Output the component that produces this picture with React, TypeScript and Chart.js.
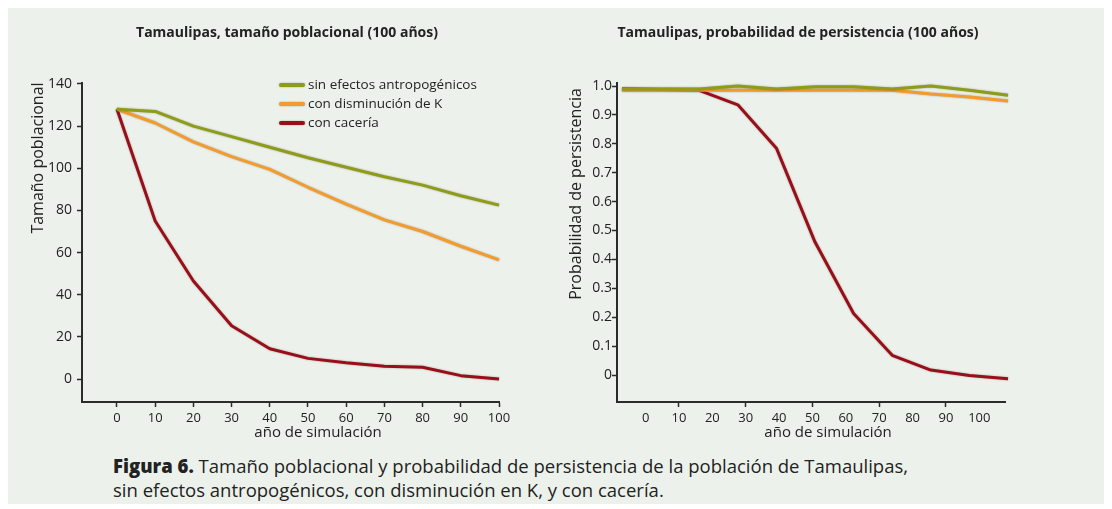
import React, { useEffect, useRef } from 'react';
import { Chart, registerables } from 'chart.js';

Chart.register(...registerables);

// ---------- data ----------
const YEARS = [0, 10, 20, 30, 40, 50, 60, 70, 80, 90, 100];
const SERIES_LABELS = ['sin efectos antropogénicos', 'con disminución de K', 'con cacería'];

const POP_NATURAL = [128, 127, 120, 115, 110, 105, 100.5, 96, 92, 87, 82.5];
const POP_K = [128, 121.5, 112.5, 105.5, 99.5, 91, 83, 75.5, 70, 63, 56.5];
const POP_HUNT = [128, 75, 46.5, 25.3, 14.4, 9.8, 7.7, 6.1, 5.6, 1.6, 0];

const PERS_NATURAL = [0.99, 0.99, 0.99, 1.0, 0.99, 0.997, 0.997, 0.99, 1.0, 0.985, 0.968];
const PERS_K = [0.985, 0.985, 0.985, 0.985, 0.985, 0.985, 0.985, 0.985, 0.972, 0.962, 0.948];
const PERS_HUNT = [0.99, 0.988, 0.985, 0.935, 0.785, 0.46, 0.213, 0.068, 0.017, -0.002, -0.013];

const X_TICKS = [0, 10, 20, 30, 40, 50, 60, 70, 80, 90, 100];
const POP_TICKS = [0, 20, 40, 60, 80, 100, 120, 140];
const PERS_TICKS = [0, 0.1, 0.2, 0.3, 0.4, 0.5, 0.6, 0.7, 0.8, 0.9, 1.0];
const PERS_MARKED_TICKS = [10, 30, 50, 70, 90];

const TITLE_POP = 'Tamaulipas, tamaño poblacional (100 años)';
const TITLE_PERS = 'Tamaulipas, probabilidad de persistencia (100 años)';
const Y_TITLE_POP = 'Tamaño poblacional';
const Y_TITLE_PERS = 'Probabilidad de persistencia';
const X_TITLE = 'año de simulación';
const CAPTION_BOLD = 'Figura 6.';
const CAPTION_LINE1 = ' Tamaño poblacional y probabilidad de persistencia de la población de Tamaulipas,';
const CAPTION_LINE2 = 'sin efectos antropogénicos, con disminución en K, y con cacería.';

// ---------- styles ----------
const COLORS = ['#8E9C17', '#F39B2C', '#9A0E1A'];
const BG = '#ECF2EB';
const AXIS = '#2b2b2b';
const TEXT = '#222222';
const FONT = '"Open Sans", "Noto Sans", sans-serif';
const CW = 552;
const CH = 440;

const decorPlugin = {
  id: 'decor',
  beforeDatasetsDraw(chart: any) {
    const ctx = chart.ctx;
    ctx.save();
    ctx.shadowColor = 'rgba(40,30,0,0.35)';
    ctx.shadowBlur = 2;
  },
  afterDatasetsDraw(chart: any) {
    chart.ctx.restore();
  },
  afterDraw(chart: any, _args: any, o: any) {
    const ctx = chart.ctx;
    ctx.save();
    ctx.fillStyle = TEXT;
    ctx.textAlign = 'center';
    ctx.textBaseline = 'middle';
    ctx.font = `bold 14px ${FONT}`;
    ctx.fillText(o.title, o.titleX, o.titleY);
    ctx.font = `15px ${FONT}`;
    ctx.fillText(o.xTitle, o.xTitleX, o.xTitleY);
    ctx.save();
    ctx.font = `16px ${FONT}`;
    ctx.translate(o.yTitleX, o.yTitleY);
    ctx.rotate(-Math.PI / 2);
    ctx.fillText(o.yTitle, 0, 0);
    ctx.restore();
    if (o.legend) {
      ctx.textAlign = 'left';
      ctx.font = `13.5px ${FONT}`;
      chart.data.datasets.forEach((ds: any, i: number) => {
        const y = o.legendY + i * o.legendGap;
        ctx.save();
        ctx.shadowColor = 'rgba(40,30,0,0.35)';
        ctx.shadowBlur = 2;
        ctx.strokeStyle = ds.borderColor;
        ctx.lineWidth = 4;
        ctx.lineCap = 'round';
        ctx.beginPath();
        ctx.moveTo(o.legendX, y);
        ctx.lineTo(o.legendX + 22, y);
        ctx.stroke();
        ctx.restore();
        ctx.fillStyle = TEXT;
        ctx.fillText(ds.label, o.legendX + 27, y);
      });
    }
    ctx.restore();
  },
};

function makeDatasets(series: number[][]) {
  return series.map((vals, i) => ({
    label: SERIES_LABELS[i],
    data: YEARS.map((x, j) => ({ x, y: vals[j] })),
    borderColor: COLORS[i],
    backgroundColor: COLORS[i],
    borderWidth: 3,
    pointRadius: 0,
    tension: 0,
    clip: false as any,
    borderJoinStyle: 'round' as const,
  }));
}

function axisCommon(size: number) {
  return {
    grid: { drawOnChartArea: false, drawTicks: true, tickLength: 5, tickColor: AXIS, tickWidth: 1.5 },
    border: { display: true, color: AXIS, width: 2 },
    ticks: { font: { family: FONT, size }, color: TEXT, maxRotation: 0, autoSkip: false },
  };
}

function PopChart() {
  const ref = useRef<HTMLCanvasElement>(null);
  useEffect(() => {
    const c = axisCommon(13);
    const chart = new Chart(ref.current!, {
      type: 'line',
      data: { datasets: makeDatasets([POP_NATURAL, POP_K, POP_HUNT]) as any },
      options: {
        animation: false,
        responsive: false,
        devicePixelRatio: 1,
        layout: { padding: { left: 0, top: 75, right: 61, bottom: 0 } },
        plugins: {
          legend: { display: false },
          tooltip: { enabled: false },
          decor: {
            title: TITLE_POP, titleX: 279, titleY: 25,
            xTitle: X_TITLE, xTitleX: 310, xTitleY: 425,
            yTitle: Y_TITLE_POP, yTitleX: 30, yTitleY: 150,
            legend: true, legendX: 273, legendY: 77, legendGap: 19,
          },
        } as any,
        scales: {
          x: {
            type: 'linear', min: -9.16, max: 100,
            afterBuildTicks: (s: any) => { s.ticks = X_TICKS.map((v) => ({ value: v })); },
            afterFit: (s: any) => { s.height = 46; },
            ...c,
            ticks: { ...c.ticks, padding: 3 },
          },
          y: {
            type: 'linear', min: -10.9, max: 140.47,
            afterBuildTicks: (s: any) => { s.ticks = POP_TICKS.map((v) => ({ value: v })); },
            afterFit: (s: any) => { s.width = 74; },
            ...c,
            ticks: { ...c.ticks, font: { family: FONT, size: 14 }, padding: 5 },
          },
        } as any,
      },
      plugins: [decorPlugin],
    });
    return () => chart.destroy();
  }, []);
  return <canvas ref={ref} width={CW} height={CH} style={{ width: CW, height: CH, display: 'block' }} />;
}

function PersChart() {
  const ref = useRef<HTMLCanvasElement>(null);
  useEffect(() => {
    const c = axisCommon(13);
    const chart = new Chart(ref.current!, {
      type: 'line',
      data: { datasets: makeDatasets([PERS_NATURAL, PERS_K, PERS_HUNT]) as any },
      options: {
        animation: false,
        responsive: false,
        devicePixelRatio: 1,
        layout: { padding: { left: 0, top: 75, right: 107, bottom: 0 } },
        plugins: {
          legend: { display: false },
          tooltip: { enabled: false },
          decor: {
            title: TITLE_PERS, titleX: 238, titleY: 25,
            xTitle: X_TITLE, xTitleX: 268, xTitleY: 425,
            yTitle: Y_TITLE_PERS, yTitleX: 16, yTitleY: 186,
            legend: false,
          },
        } as any,
        scales: {
          x: { type: 'linear', display: false, min: -1.3, max: 99.22 },
          xl: {
            type: 'linear', position: 'bottom', min: -8.57, max: 107.7,
            afterBuildTicks: (s: any) => { s.ticks = X_TICKS.map((v) => ({ value: v })); },
            afterFit: (s: any) => { s.height = 46; },
            ...c,
            grid: {
              ...c.grid,
              tickColor: (ctx: any) => (PERS_MARKED_TICKS.includes(ctx.tick && ctx.tick.value) ? AXIS : 'rgba(0,0,0,0)'),
            },
            ticks: { ...c.ticks, padding: 3 },
          },
          y: {
            type: 'linear', min: -0.0934, max: 1.0104,
            afterBuildTicks: (s: any) => { s.ticks = PERS_TICKS.map((v) => ({ value: v })); },
            afterFit: (s: any) => { s.width = 57; },
            ...c,
            ticks: {
              ...c.ticks, font: { family: FONT, size: 14 }, padding: 0,
              callback: (v: any) => (v === 0 ? '0' : Number(v).toFixed(1)),
            },
          },
        } as any,
      },
      plugins: [decorPlugin],
    });
    return () => chart.destroy();
  }, []);
  return <canvas ref={ref} width={CW} height={CH} style={{ width: CW, height: CH, display: 'block' }} />;
}

export default function App() {
  return (
    <div style={{ position: 'relative', width: 1104, height: 496, background: BG, overflow: 'hidden' }}>
      <div style={{ position: 'absolute', left: 0, top: 0 }}><PopChart /></div>
      <div style={{ position: 'absolute', left: 552, top: 0 }}><PersChart /></div>
      <div
        style={{
          position: 'absolute', left: 105, top: 446, fontFamily: FONT, fontSize: 18.5,
          lineHeight: '24px', color: TEXT, whiteSpace: 'nowrap',
        }}
      >
        <span style={{ fontWeight: 800 }}>{CAPTION_BOLD}</span>
        {CAPTION_LINE1}
        <br />
        {CAPTION_LINE2}
      </div>
    </div>
  );
}
